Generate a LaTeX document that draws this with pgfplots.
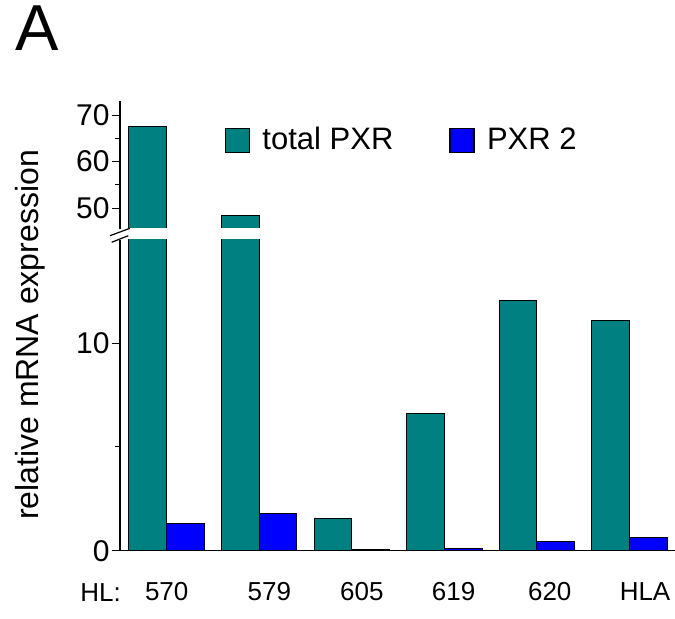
\documentclass[border=0pt]{standalone}
\usepackage{fontspec}
\setmainfont{Liberation Sans}
\usepackage{pgfplots}
\usepackage{pgfplotstable}
\pgfplotsset{compat=1.18}
\definecolor{tealbar}{HTML}{008080}
\definecolor{bluebar}{HTML}{0000FF}

\pgfplotstableread{
x y
-0.204 67.5
0.796 48.3
1.796 1.56
2.796 6.62
3.796 12.04
4.796 11.08
}\totaltab
\pgfplotstableread{
x y
0.204 1.32
1.204 1.79
2.204 0.04
3.204 0.12
4.204 0.45
5.204 0.65
}\twotab

\begin{document}
\begin{tikzpicture}
\useasboundingbox (0pt,0pt) rectangle (337.5pt,309.5pt);
\pgfplotsset{
  common/.style={
    scale only axis,
    width=277.5pt,
    xmin=-0.505, xmax=5.494,
    /pgf/number format/assume math mode=true,
    tick align=outside,
    major tick length=4pt,
    minor tick length=2.5pt,
    tick style={black, line width=0.5pt},
    axis line style={line width=0.6pt},
    yticklabel style={font=\fontsize{15}{18}\selectfont, inner sep=0pt, xshift=-1pt},
  },
  barstyle/.style={ybar, bar width=0.408, bar shift=0pt, draw=black, line width=0.5pt},
}
% lower axis
\begin{axis}[common,
  anchor=south west, at={(60pt,34.15pt)},
  height=155.55pt,
  ymin=0, ymax=15,
  axis x line*=bottom, axis y line*=left,
  ytick={0,10}, minor ytick={5},
  xtick={0,1.11,2.11,3.10,4.14,5.17},
  xticklabels={570,579,605,619,620,HLA},
  xtick style={draw=none},
  xticklabel style={font=\fontsize{13}{15}\selectfont, anchor=base, yshift=-20.9pt, inner sep=0pt},
  extra x ticks={0.5,1.5,2.5,3.5,4.5},
  extra x tick labels={},
  extra x tick style={tick style={draw=black!70, line width=0.5pt}, major tick length=1.5pt},
  clip=true,
]
\addplot[barstyle, fill=tealbar] table[x=x,y=y] {\totaltab};
\addplot[barstyle, fill=bluebar] table[x=x,y=y] {\twotab};
\end{axis}
% upper axis
\begin{axis}[common,
  anchor=south west, at={(60pt,195pt)},
  height=63.94pt,
  ymin=45.5, ymax=73,
  axis x line=none, axis y line*=left,
  ytick={50,60,70}, minor ytick={55,65},
  legend style={draw=none, fill=none, inner sep=0pt, outer sep=0pt,
    at={(0.189,0.695)}, anchor=west,
    font=\fontsize{15.5}{18}\selectfont,
    nodes={inner sep=0pt},
    /tikz/every odd column/.append style={column sep=6.2pt},
    /tikz/every even column/.append style={column sep=28.0pt}},
  legend columns=2,
  legend image code/.code={\draw[#1, line width=0.6pt] (0pt,-6pt) rectangle (12pt,6pt);},
]
\addplot[barstyle, fill=tealbar, restrict y to domain=45.5:200] table[x=x,y=y] {\totaltab};
\addlegendimage{barstyle, fill=bluebar}
\legend{total PXR, PXR 2}
\end{axis}
% white gap of the axis break
\fill[white] (60.7pt,189.9pt) rectangle (337.5pt,195.4pt);
% axis break marks
\draw[line width=0.6pt] (55pt,191.65pt) -- (65pt,195.35pt);
\draw[line width=0.6pt] (55.85pt,188.35pt) -- (64.15pt,191.65pt);
% labels
\node[rotate=90, font=\fontsize{16}{19}\selectfont, inner sep=0pt] at (15pt,142pt) {relative mRNA expression};
\node[anchor=base west, inner sep=0pt, font=\fontsize{32.5}{38}\selectfont] at (7.5pt,284.15pt) {A};
\node[anchor=base west, inner sep=0pt, font=\fontsize{13}{15}\selectfont] at (40pt,8.65pt) {HL:};
\end{tikzpicture}
\end{document}
